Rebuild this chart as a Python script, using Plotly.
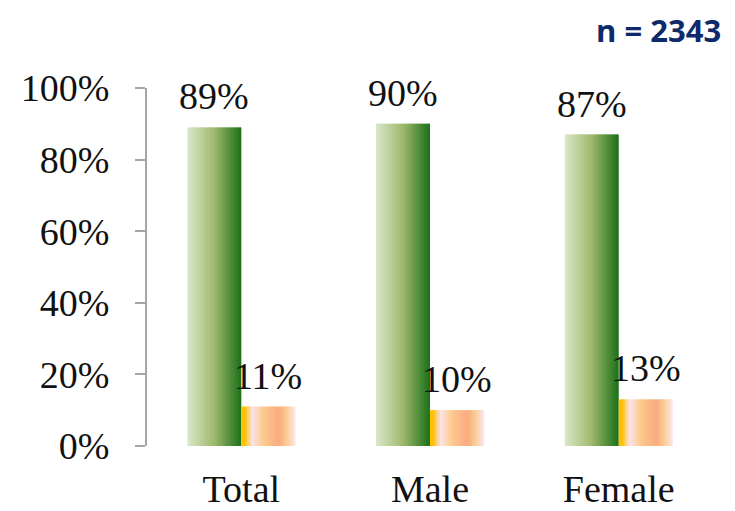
import plotly.graph_objects as go

# data
categories = ["Total", "Male", "Female"]
yes_values = [89, 90, 87]
no_values = [11, 10, 13]
y_ticks = [0, 20, 40, 60, 80, 100]
y_tick_labels = ["0%", "20%", "40%", "60%", "80%", "100%"]
sample_note = "n = 2343"


def hex_to_rgb(h):
    h = h.lstrip("#")
    return tuple(int(h[i:i + 2], 16) for i in (0, 2, 4))


def gradient(stops, t):
    # stops: list of (pos, hex)
    for (p0, c0), (p1, c1) in zip(stops, stops[1:]):
        if p0 <= t <= p1:
            f = 0 if p1 == p0 else (t - p0) / (p1 - p0)
            a, b = hex_to_rgb(c0), hex_to_rgb(c1)
            return "rgb(%d,%d,%d)" % tuple(round(a[k] + (b[k] - a[k]) * f) for k in range(3))
    return stops[-1][1]


green_stops = [(0, "#d9e8c9"), (0.5, "#9fb86c"), (1, "#1b7018")]
orange_stops = [(0, "#ffc000"), (0.06, "#ffc000"), (0.2, "#fde2ea"), (0.4, "#fccb8e"),
                (0.7, "#f9ab80"), (0.85, "#fbcf98"), (1, "#fde6ea")]

bar_w = 0.286
n_strips = 27
strip_w = bar_w / n_strips

fig = go.Figure()

for series, vals, stops, start in [("Yes", yes_values, green_stops, -bar_w),
                                   ("No", no_values, orange_stops, 0)]:
    for i in range(n_strips):
        t = (i + 0.5) / n_strips
        # strips overlap the next one a little so no seams show
        w = strip_w * (1.8 if i < n_strips - 1 else 1.0)
        fig.add_trace(go.Bar(
            x=categories, y=vals,
            width=w, offset=start + i * strip_w,
            marker=dict(color=gradient(stops, t), line=dict(width=0)),
            showlegend=False, hoverinfo="skip",
        ))

# value labels
for vals, dx in [(yes_values, -27), (no_values, 27)]:
    for c, v in zip(categories, vals):
        fig.add_annotation(x=c, y=v, xshift=dx, yshift=8, yanchor="bottom",
                           text=f"{v}%", showarrow=False,
                           font=dict(family="Liberation Serif", size=38, color="#111111"))

fig.add_annotation(x=1, xref="paper", xanchor="right", xshift=9,
                   y=1, yref="paper", yanchor="top", yshift=80,
                   text=f"<b>{sample_note}</b>", showarrow=False, borderpad=0,
                   font=dict(family="Open Sans", size=31, color="#0e2a6a"))

# the page body adds an 8px margin, so the figure is 8px smaller on each side
fig.update_layout(
    width=727, height=503,
    margin=dict(l=139, r=22, t=80, b=65),
    plot_bgcolor="white", paper_bgcolor="white",
    barmode="overlay",
    font=dict(family="Liberation Serif", size=38, color="#111111"),
    xaxis=dict(showgrid=False, zeroline=False, showline=False, ticks="",
               ticklabelstandoff=17, automargin=False),
    yaxis=dict(range=[0, 100], tickvals=y_ticks, ticktext=y_tick_labels,
               showgrid=False, zeroline=False, showline=True,
               linecolor="#a6a6a6", linewidth=2,
               ticks="outside", ticklen=10, tickcolor="#a6a6a6", tickwidth=2,
               ticklabelstandoff=18, automargin=False),
)

fig.write_html("out.html")
